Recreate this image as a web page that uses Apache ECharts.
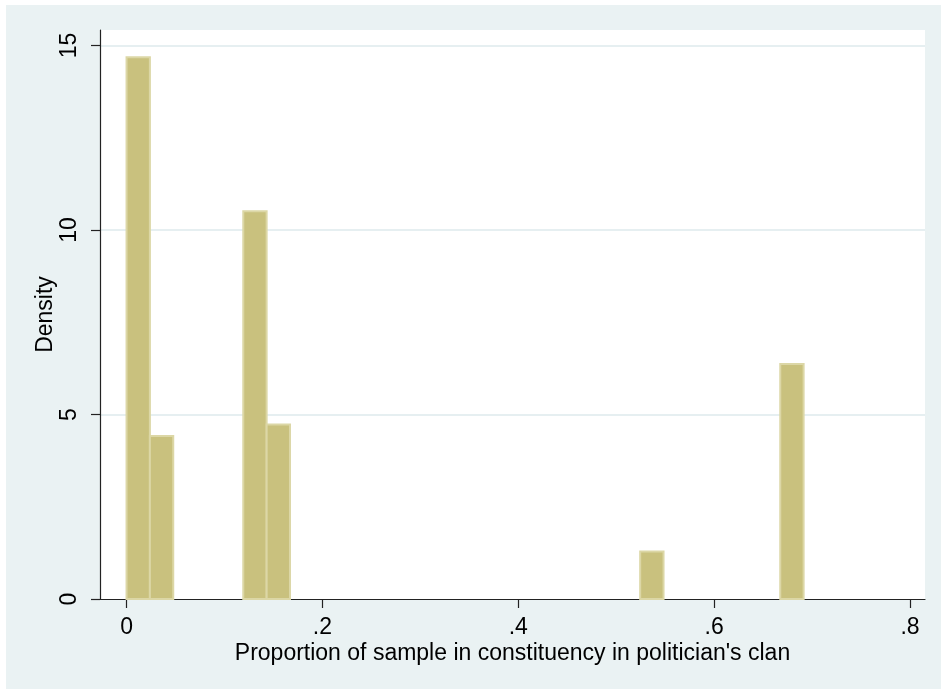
<!DOCTYPE html>
<html>
<head>
<meta charset="utf-8">
<script src="https://cdn.jsdelivr.net/npm/echarts@6/dist/echarts.min.js"></script>
<style>
  html, body { margin: 0; padding: 0; background: #ffffff; }
  #frame { position: absolute; left: 6px; top: 5px; width: 935px; height: 684px; background: #eaf2f3; }
  #chart { position: absolute; left: 0; top: 0; width: 941px; height: 689px; }
</style>
</head>
<body>
<div id="frame"></div>
<div id="chart"></div>
<script>
// Histogram of the share of each constituency sample belonging to the politician's clan
const binWidth = 0.02384;
const binIndex = [0, 1, 5, 6, 22, 28];            // occupied bins (bins start at 0)
const density = [14.68, 4.42, 10.51, 4.73, 1.29, 6.37];
const xTicks = [0, 0.2, 0.4, 0.6, 0.8];
const yTicks = [0, 5, 10, 15];

const barData = binIndex.map((k, i) => [k * binWidth, (k + 1) * binWidth, density[i]]);

const fmtX = v => (v === 0 ? '0' : String(+v.toFixed(1)).replace(/^0\./, '.'));
const textColor = '#000000';
const fontFamily = '"Liberation Sans", Arial, sans-serif';
const fs = 23;

const chart = echarts.init(document.getElementById('chart'), null, { renderer: 'canvas' });
chart.setOption({
  backgroundColor: 'transparent',
  animation: false,
  grid: { left: 100, top: 30, right: 16, bottom: 90, show: true, backgroundColor: '#ffffff', borderWidth: 0 },
  xAxis: {
    type: 'value',
    min: -0.0271,
    max: 0.8153,
    name: "Proportion of sample in constituency in politician's clan",
    nameLocation: 'middle',
    nameGap: 43,
    nameMoveOverlap: false,
    nameTextStyle: { color: textColor, fontSize: fs, fontFamily },
    axisLine: { show: true, onZero: false, lineStyle: { color: '#222222', width: 1.2 } },
    axisTick: { show: true, length: 9, customValues: xTicks, lineStyle: { color: '#222222', width: 1.2 } },
    axisLabel: { customValues: xTicks, formatter: fmtX, color: textColor, fontSize: fs, fontFamily, margin: 17 },
    splitLine: { show: false }
  },
  yAxis: {
    type: 'value',
    min: 0,
    max: 15.42,
    interval: 5,
    name: 'Density',
    nameLocation: 'middle',
    nameRotate: 90,
    nameGap: 43,
    nameMoveOverlap: false,
    nameTextStyle: { color: textColor, fontSize: fs, fontFamily },
    axisLine: { show: true, onZero: false, lineStyle: { color: '#222222', width: 1.2 } },
    axisTick: { show: true, length: 9, lineStyle: { color: '#222222', width: 1.2 } },
    axisLabel: { rotate: 90, showMaxLabel: false, color: textColor, fontSize: fs, fontFamily, margin: 19 },
    splitLine: { show: true, showMinLine: false, showMaxLine: false, lineStyle: { color: '#e6eff1', width: 2 } }
  },
  series: [{
    type: 'custom',
    data: barData,
    encode: { x: [0, 1], y: 2 },
    renderItem: (params, api) => {
      const p0 = api.coord([api.value(0), 0]);
      const p1 = api.coord([api.value(1), api.value(2)]);
      return {
        type: 'rect',
        shape: { x: p0[0], y: p1[1], width: p1[0] - p0[0], height: p0[1] - p1[1] },
        style: { fill: '#c9c17e', stroke: '#dcd7a6', lineWidth: 2 }
      };
    }
  }]
});
</script>
</body>
</html>
